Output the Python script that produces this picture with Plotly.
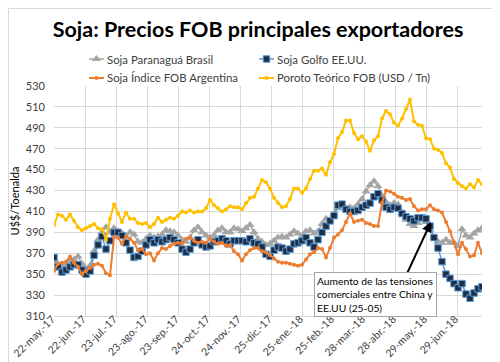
import pandas as pd
import plotly.graph_objects as go

# ---- data (sampled every 4 days from 22-may-2017) ----
start_date = "2017-05-22"
n_points = 108
step = "4D"

brasil = [362, 360, 358, 360, 362, 364, 367, 360, 355, 358,
          372, 383, 390, 395, 390, 394, 391, 389, 386, 390,
          388, 381, 380, 384, 387, 385, 386, 388, 392, 391,
          390, 387, 383, 381, 385, 392, 395, 390, 387, 385,
          387, 392, 394, 390, 390, 394, 393, 391, 394, 397,
          390, 384, 381, 378, 379, 382, 385, 386, 385, 388,
          391, 389, 386, 391, 392, 389, 391, 398, 403, 402,
          408, 413, 416, 413, 414, 413, 417, 422, 429, 435,
          439, 434, 425, 419, 416, 418, 417, 409, 402, 398,
          396, 399, 402, 400, 392, 385, 381, 380, 383, 380,
          380, 377, 393, 387, 385, 389, 392, 394]

golfo = [366, 357, 352, 354, 357, 359, 359, 354, 350, 353,
         368, 378, 386, 374, 382, 390, 390, 387, 380, 373,
         366, 367, 372, 378, 383, 380, 383, 381, 383, 385,
         383, 380, 374, 371, 374, 380, 383, 378, 376, 377,
         381, 382, 384, 382, 379, 382, 382, 382, 381, 384,
         380, 379, 376, 369, 367, 373, 376, 375, 372, 374,
         379, 380, 382, 385, 380, 376, 383, 390, 396, 401,
         406, 416, 417, 412, 410, 410, 411, 414, 416, 418,
         424, 427, 421, 414, 412, 414, 413, 408, 405, 403,
         401, 404, 404, 403, 396, 385, 375, 362, 350, 346,
         341, 337, 341, 331, 327, 332, 336, 338]

argentina = [353, 360, 361, 362, 367, 361, 357, 350, 353, 356,
             359, 360, 358, 351, 349, 385, 385, 379, 386, 384,
             380, 373, 374, 369, 370, 363, 370, 375, 374, 377,
             379, 380, 379, 384, 385, 382, 380, 381, 380, 384,
             381, 379, 380, 377, 378, 372, 369, 363, 369, 373,
             375, 375, 372, 371, 368, 365, 362, 361, 361, 360,
             359, 358, 359, 364, 369, 371, 375, 374, 366, 375,
             385, 388, 392, 400, 408, 400, 401, 402, 399, 398,
             396, 396, 418, 430, 429, 427, 424, 423, 421, 422,
             415, 411, 412, 412, 416, 412, 411, 409, 400, 391,
             380, 369, 380, 374, 367, 368, 380, 370]

poroto = [397, 407, 406, 402, 407, 401, 395, 392, 394, 396,
          398, 394, 393, 383, 403, 417, 408, 400, 409, 403,
          403, 399, 398, 399, 395, 398, 404, 400, 402, 404,
          403, 406, 410, 409, 411, 409, 410, 410, 413, 421,
          416, 413, 410, 412, 415, 414, 414, 412, 418, 423,
          424, 432, 440, 438, 432, 423, 418, 414, 415, 422,
          432, 432, 428, 432, 441, 449, 449, 451, 445, 457,
          465, 480, 486, 497, 497, 485, 479, 482, 477, 468,
          478, 482, 499, 506, 503, 495, 492, 499, 508, 517,
          496, 493, 492, 480, 479, 470, 469, 466, 456, 452,
          441, 437, 434, 432, 436, 433, 440, 436]

series_names = ["Soja Paranaguá Brasil", "Soja Golfo EE.UU.",
                "Soja Índice FOB Argentina", "Poroto Teórico FOB (USD / Tn)"]

tick_dates = ["2017-05-22", "2017-06-22", "2017-07-23", "2017-08-23",
              "2017-09-23", "2017-10-24", "2017-11-24", "2017-12-25",
              "2018-01-25", "2018-02-25", "2018-03-28", "2018-04-28",
              "2018-05-29", "2018-06-29"]
tick_labels = ["22-may.-17", "22-jun.-17", "23-jul.-17", "23-ago.-17",
               "23-sep.-17", "24-oct.-17", "24-nov.-17", "25-dic.-17",
               "25-ene.-18", "25-feb.-18", "28-mar.-18", "28-abr.-18",
               "29-may.-18", "29-jun.-18"]

y_ticks = [310, 330, 350, 370, 390, 410, 430, 450, 470, 490, 510, 530]

annot_text = "Aumento de las tensiones<br>comerciales entre China y<br>EE.UU (25-05)"
arrow_date = "2018-06-03"
arrow_value = 400

dates = pd.date_range(start_date, periods=n_points, freq=step)

FONT = "Lato"
W, H = 500, 362
PL, PR, PT, PB = 46, 474, 78, 308   # plot area in pixels
X0 = pd.Timestamp("2017-05-22")
X1 = pd.Timestamp("2018-07-24")
Y0, Y1 = 310, 530

def fx(p):   # pixel -> paper (whole figure, margins are zero)
    return p / W

def fy(p):
    return (H - p) / H

styles = [
    dict(line=dict(color="#A5A5A5", width=1.5),
         marker=dict(symbol="triangle-up", size=8, color="#A5A5A5")),
    dict(line=dict(color="#5B9BD5", width=1.5),
         marker=dict(symbol="square", size=6.5, color="#1F2E45",
                     line=dict(color="#5B9BD5", width=1))),
    dict(line=dict(color="#ED7D31", width=2),
         marker=dict(symbol="circle", size=4, color="#ED7D31")),
    dict(line=dict(color="#FFC000", width=2),
         marker=dict(symbol="circle", size=4, color="#FFC000")),
]

fig = go.Figure()
for vals, name, st in zip([brasil, golfo, argentina, poroto], series_names, styles):
    fig.add_trace(go.Scatter(x=dates, y=vals, name=name, mode="lines+markers",
                             showlegend=False, **st))

# ---- manual legend (2 x 2) drawn on a full-figure pixel subplot ----
leg_pos = [(81, 51), (251, 51), (81, 70), (251, 70)]
leg_len = 15
for (lx, ly), name, st in zip(leg_pos, series_names, styles):
    fig.add_trace(go.Scatter(x=[lx, lx + leg_len], y=[ly, ly], mode="lines",
                             line=st["line"], xaxis="x2", yaxis="y2",
                             showlegend=False, hoverinfo="skip"))
    fig.add_trace(go.Scatter(x=[lx + leg_len / 2], y=[ly], mode="markers",
                             marker=st["marker"], xaxis="x2", yaxis="y2",
                             showlegend=False, hoverinfo="skip"))
    fig.add_annotation(x=fx(lx + leg_len + 1), y=fy(ly), xref="paper", yref="paper",
                       xanchor="left", yanchor="middle", text=name, showarrow=False,
                       font=dict(family=FONT, size=11.4, color="#404040"))

fig.update_layout(
    width=W, height=H,
    margin=dict(l=0, r=0, t=0, b=0, autoexpand=False),
    paper_bgcolor="white", plot_bgcolor="rgba(0,0,0,0)",
    font=dict(family=FONT, size=12, color="#404040"),
    title=dict(text="Soja: Precios FOB principales exportadores",
               x=0.5, xanchor="center", xref="container",
               y=1 - 21 / H, yanchor="middle", yref="container",
               font=dict(family="Lato", size=21.5, color="#000000",
                         weight="bold")),
    showlegend=False,
    xaxis=dict(domain=[fx(PL), fx(PR)], anchor="y"),
    yaxis=dict(domain=[fy(PB), fy(PT)], anchor="x"),
    xaxis2=dict(domain=[0, 1], range=[0, W], visible=False, anchor="y2",
                fixedrange=True),
    yaxis2=dict(domain=[0, 1], range=[H, 0], visible=False, anchor="x2",
                fixedrange=True),
)

fig.layout.xaxis.update(
    type="date", range=[X0, X1], automargin=False,
    tickmode="array", tickvals=tick_dates, ticktext=tick_labels,
    tickangle=-45, tickfont=dict(family=FONT, size=10.5, color="#404040"),
    ticklabelshift=-2, ticklabelstandoff=-8, ticklabeloverflow="allow",
    showgrid=True, gridcolor="#D9D9D9", gridwidth=1,
    showline=True, linecolor="#D9D9D9", zeroline=False, ticks="")

fig.layout.yaxis.update(
    range=[Y0, Y1], tickmode="array", tickvals=y_ticks, automargin=False,
    tickfont=dict(family=FONT, size=11, color="#404040"),
    showgrid=True, gridcolor="#D9D9D9", gridwidth=1,
    zeroline=False, showline=False, ticks="", ticklabelstandoff=8,
    title=dict(text="U$$/Toenalda", standoff=6,
               font=dict(family=FONT, size=11, color="#000000")))

# arrow only
fig.add_annotation(x=arrow_date, y=arrow_value, xref="x", yref="y",
                   text="", showarrow=True, ax=-26, ay=56,
                   arrowhead=2, arrowsize=1, arrowwidth=2, arrowcolor="#000000")
# text box
fig.add_annotation(x=fx(306), y=fy(264), xref="paper", yref="paper",
                   xanchor="left", yanchor="top", text=annot_text, align="left",
                   showarrow=False, bgcolor="white", bordercolor="#A6A6A6",
                   borderwidth=1, borderpad=2,
                   font=dict(family=FONT, size=10.3, color="#000000"))

# chart border
fig.add_shape(type="rect", xref="paper", yref="paper",
              x0=fx(0.5), x1=fx(W - 0.5), y0=fy(H - 0.5), y1=fy(0.5),
              line=dict(color="#D9D9D9", width=1), layer="below")

fig.write_html("out.html")
